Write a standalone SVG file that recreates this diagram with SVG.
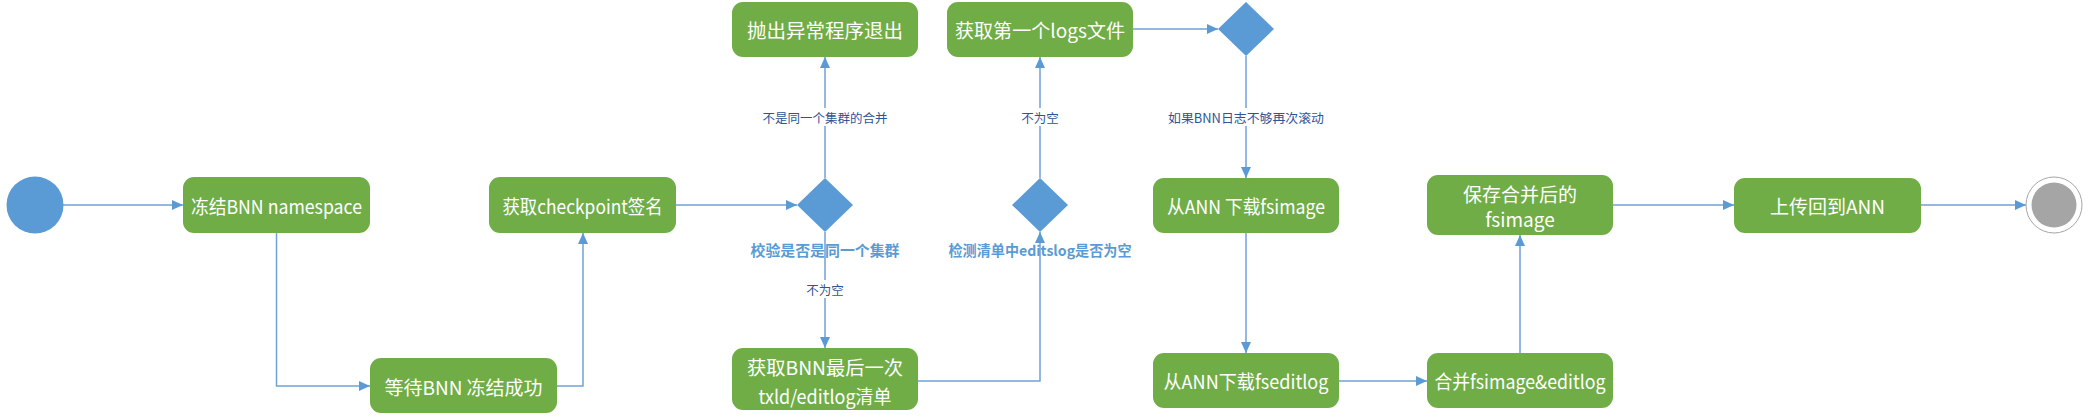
<svg xmlns="http://www.w3.org/2000/svg" width="2089" height="417" viewBox="0 0 2089 417">
<style>
.box{fill:#70AD47;}
.bt{fill:#FFFFFF;font-family:"Noto Sans CJK SC","Liberation Sans",sans-serif;font-size:19px;text-anchor:middle;dominant-baseline:central;}
.dia{fill:#5B9BD5;}
.edge{fill:none;stroke:#6FA2D9;stroke-width:1.5;marker-end:url(#arr);}
.lbl{fill:#2F5496;font-family:"Noto Sans CJK SC","Liberation Sans",sans-serif;font-size:12.5px;text-anchor:middle;dominant-baseline:central;}
.dl{fill:#5B9BD5;font-family:"Noto Sans CJK SC","Liberation Sans",sans-serif;font-size:14.5px;font-weight:bold;text-anchor:middle;dominant-baseline:central;}
.bg{fill:#FFFFFF;}
</style>
<defs>
<marker id="arr" markerUnits="userSpaceOnUse" markerWidth="11" markerHeight="10" refX="11" refY="5" orient="auto">
<path d="M0,0 L11,5 L0,10 z" fill="#5B9BD5"/>
</marker>
</defs>
<rect width="2089" height="417" fill="#FFFFFF"/>
<g id="connectors">
<path class="edge" d="M63,205 H183"/>
<path class="edge" d="M276.5,233 V386 H370"/>
<path class="edge" d="M557,386 H583 V233"/>
<path class="edge" d="M676,205 H797"/>
<path class="edge" d="M825,178 V57"/>
<path class="edge" d="M825,232 V348"/>
<path class="edge" d="M918,381 H1040 V232"/>
<path class="edge" d="M1040,178 V57"/>
<path class="edge" d="M1133,29 H1218"/>
<path class="edge" d="M1246,56 V178"/>
<path class="edge" d="M1246,233 V353"/>
<path class="edge" d="M1339,381 H1427"/>
<path class="edge" d="M1520,353 V235"/>
<path class="edge" d="M1613,205 H1734"/>
<path class="edge" d="M1921,205 H2026"/>
<rect class="bg" x="756" y="108" width="138" height="18"/>
<text class="lbl" x="825" y="117">不是同一个集群的合并</text>
<rect class="bg" x="804" y="280" width="42" height="18"/>
<text class="lbl" x="825" y="289">不为空</text>
<rect class="bg" x="1019" y="108" width="42" height="18"/>
<text class="lbl" x="1040" y="117">不为空</text>
<rect class="bg" x="1166" y="108" width="160" height="18"/>
<text class="lbl" x="1246" y="117" textLength="156" lengthAdjust="spacingAndGlyphs">如果BNN日志不够再次滚动</text>
</g>
<g id="start"><circle cx="35" cy="205" r="28.5" fill="#5B9BD5"/></g>
<g id="n1"><rect class="box" x="183" y="177" width="187" height="56" rx="11"/><text class="bt" x="276.5" y="205" textLength="171" lengthAdjust="spacingAndGlyphs">冻结BNN namespace</text></g>
<g id="n2"><rect class="box" x="370" y="358" width="187" height="55" rx="11"/><text class="bt" x="463.5" y="386" textLength="158" lengthAdjust="spacingAndGlyphs">等待BNN 冻结成功</text></g>
<g id="n3"><rect class="box" x="489" y="177" width="187" height="56" rx="11"/><text class="bt" x="582.5" y="205" textLength="160" lengthAdjust="spacingAndGlyphs">获取checkpoint签名</text></g>
<g id="d1"><polygon class="dia" points="825,178 853,205 825,232 797,205"/><text class="dl" x="825" y="249" textLength="149" lengthAdjust="spacingAndGlyphs">校验是否是同一个集群</text></g>
<g id="n4"><rect class="box" x="732" y="2" width="186" height="55" rx="11"/><text class="bt" x="825" y="29.5" textLength="156" lengthAdjust="spacingAndGlyphs">抛出异常程序退出</text></g>
<g id="n5"><rect class="box" x="732" y="348" width="186" height="62" rx="11"/><text class="bt" x="825" y="366" textLength="156" lengthAdjust="spacingAndGlyphs">获取BNN最后一次</text><text class="bt" x="825" y="395" textLength="133" lengthAdjust="spacingAndGlyphs">txld/editlog清单</text></g>
<g id="d2"><polygon class="dia" points="1040,178 1068,205 1040,232 1012,205"/><text class="dl" x="1040" y="249" textLength="183" lengthAdjust="spacingAndGlyphs">检测清单中editslog是否为空</text></g>
<g id="n6"><rect class="box" x="947" y="2" width="186" height="55" rx="11"/><text class="bt" x="1040" y="29.5" textLength="170" lengthAdjust="spacingAndGlyphs">获取第一个logs文件</text></g>
<g id="d3"><polygon class="dia" points="1246,2 1274,29 1246,56 1218,29"/></g>
<g id="n7"><rect class="box" x="1153" y="178" width="186" height="55" rx="11"/><text class="bt" x="1246" y="205" textLength="158" lengthAdjust="spacingAndGlyphs">从ANN 下载fsimage</text></g>
<g id="n8"><rect class="box" x="1153" y="353" width="186" height="55" rx="11"/><text class="bt" x="1246" y="380" textLength="165" lengthAdjust="spacingAndGlyphs">从ANN下载fseditlog</text></g>
<g id="n9"><rect class="box" x="1427" y="353" width="186" height="55" rx="11"/><text class="bt" x="1520" y="380" textLength="171" lengthAdjust="spacingAndGlyphs">合并fsimage&amp;editlog</text></g>
<g id="n10"><rect class="box" x="1427" y="175" width="186" height="60" rx="11"/><text class="bt" x="1520" y="193" textLength="114" lengthAdjust="spacingAndGlyphs">保存合并后的</text><text class="bt" x="1520" y="218">fsimage</text></g>
<g id="n11"><rect class="box" x="1734" y="178" width="187" height="55" rx="11"/><text class="bt" x="1827.5" y="205" textLength="115" lengthAdjust="spacingAndGlyphs">上传回到ANN</text></g>
<g id="end"><circle cx="2054" cy="205" r="28" fill="#FFFFFF" stroke="#A6A6A6" stroke-width="1"/><circle cx="2054" cy="205" r="22.5" fill="#A5A5A5"/></g>
</svg>
